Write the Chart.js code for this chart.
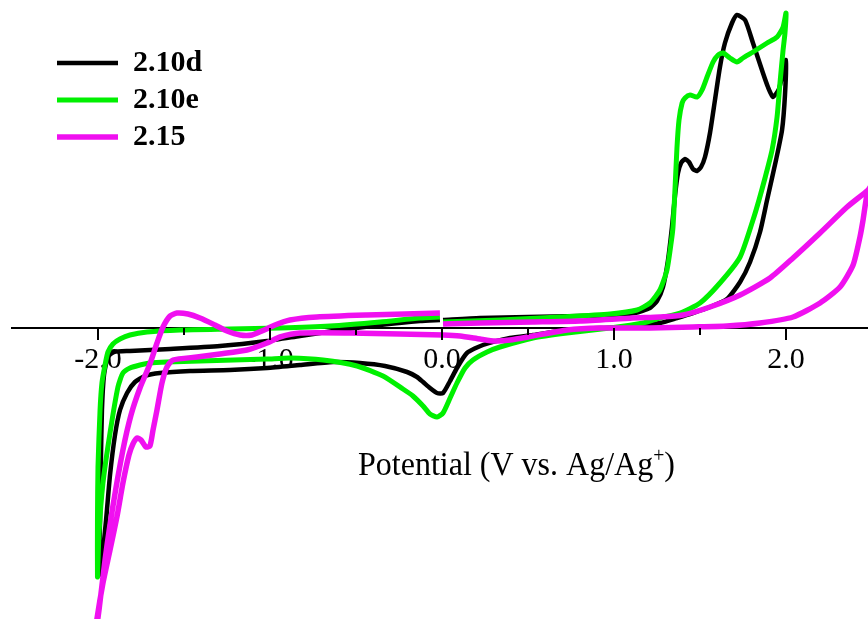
<!DOCTYPE html>
<html>
<head>
<meta charset="utf-8">
<script src="https://cdn.jsdelivr.net/npm/chart.js@4.4.0/dist/chart.umd.min.js"></script>
<style>
  html, body { margin: 0; padding: 0; background: #fff; }
  canvas { display: block; }
</style>
</head>
<body>
<canvas id="cv-chart" width="868" height="619"></canvas>
<script>
// cyclic voltammograms, potential in V vs Ag/Ag+, current in arbitrary units
var seriesNames = ['2.10d', '2.10e', '2.15'];
var seriesColors = ['#000000', '#00f000', '#f010f0'];

// 2.10d : 0 -> +2.0 -> -2.0 -> 0
var potential210d = [0.006, 0.221, 0.5, 0.802, 1.0, 1.122, 1.209, 1.250, 1.285, 1.314, 1.337, 1.355, 1.372, 1.390, 1.413, 1.436, 1.459, 1.483, 1.506, 1.529, 1.558, 1.587, 1.616, 1.645, 1.686, 1.715, 1.762, 1.808, 1.866, 1.895, 1.924, 1.959, 2.0,
  1.994, 1.977, 1.942, 1.890, 1.849, 1.791, 1.733, 1.657, 1.558, 1.459, 1.366, 1.267, 1.076, 0.919, 0.727, 0.529, 0.395, 0.238, 0.145, 0.087, 0.047, 0.006, -0.029, -0.070, -0.110, -0.145, -0.203, -0.331, -0.477, -0.634, -0.826, -1.017, -1.233, -1.465, -1.640, -1.727, -1.785, -1.831, -1.872, -1.901, -1.930, -1.953, -1.977, -1.994,
  -1.988, -1.983, -1.977, -1.965, -1.942, -1.907, -1.814, -1.581, -1.291, -1.017, -0.826, -0.593, -0.360, -0.128, -0.012];
var current210d = [0.8, 1.0, 1.1, 1.2, 1.3, 1.5, 2.0, 2.7, 4.1, 6.8, 10.1, 13.3, 15.5, 16.5, 16.9, 16.6, 15.9, 15.7, 16.1, 17.1, 19.5, 22.8, 26.1, 28.5, 30.5, 31.3, 30.8, 28.5, 25.5, 24.1, 23.1, 23.9, 26.8,
  23.3, 19.8, 16.8, 12.8, 9.6, 6.6, 4.6, 2.9, 2.1, 1.5, 1.0, 0.5, 0.1, 0.0, -0.2, -0.7, -1.0, -1.7, -2.5, -4.0, -5.3, -6.5, -6.5, -6.0, -5.4, -4.9, -4.4, -3.8, -3.5, -3.4, -3.7, -4.0, -4.2, -4.3, -4.5, -4.8, -5.4, -6.5, -8.2, -10.7, -14.7, -19.2, -23.2, -24.7,
  -19.2, -13.2, -8.2, -4.7, -2.9, -2.4, -2.3, -2.1, -1.8, -1.3, -0.8, -0.2, 0.3, 0.7, 0.8];

// 2.10e
var potential210e = [0.006, 0.337, 0.686, 0.977, 1.134, 1.209, 1.267, 1.308, 1.332, 1.343, 1.355, 1.366, 1.378, 1.396, 1.413, 1.442, 1.483, 1.512, 1.541, 1.576, 1.605, 1.634, 1.674, 1.715, 1.750, 1.808, 1.890, 1.948, 1.983, 2.0,
  1.994, 1.983, 1.965, 1.948, 1.919, 1.878, 1.843, 1.808, 1.733, 1.616, 1.500, 1.384, 1.267, 1.169, 0.977, 0.727, 0.529, 0.337, 0.262, 0.180, 0.134, 0.087, 0.047, 0.006, -0.029, -0.070, -0.110, -0.169, -0.227, -0.343, -0.494, -0.692, -0.884, -1.017, -1.407, -1.599, -1.698, -1.756, -1.814, -1.855, -1.884, -1.930, -1.971, -1.994, -2.003,
  -2.003, -2.0, -1.988, -1.977, -1.959, -1.942, -1.913, -1.872, -1.814, -1.715, -1.523, -1.233, -0.942, -0.651, -0.360, -0.128, -0.012];
var current210e = [0.6, 0.8, 1.1, 1.4, 1.8, 2.5, 3.8, 5.8, 8.5, 10.1, 14.0, 18.0, 20.8, 22.5, 23.0, 23.3, 23.1, 23.8, 25.1, 26.6, 27.3, 27.5, 27.0, 26.6, 27.0, 27.6, 28.5, 29.1, 30.1, 31.5,
  29.5, 27.8, 24.5, 21.1, 17.8, 15.0, 12.8, 10.8, 7.1, 4.5, 2.5, 1.5, 1.0, 0.5, 0.0, -0.5, -1.0, -1.9, -2.4, -3.2, -4.0, -5.5, -7.0, -8.5, -8.9, -8.6, -7.8, -6.8, -6.1, -4.8, -3.8, -3.2, -3.0, -3.1, -3.3, -3.4, -3.5, -3.7, -4.0, -4.5, -5.9, -10.5, -15.5, -20.5, -24.9,
  -19.2, -13.9, -8.2, -5.5, -3.7, -2.4, -1.6, -1.1, -0.7, -0.4, -0.2, -0.1, 0.0, 0.2, 0.6, 1.0, 1.1];

// 2.15 (both vertices run past the frame)
var potential215 = [0.006, 0.221, 0.529, 0.802, 1.110, 1.267, 1.401, 1.558, 1.733, 1.907, 2.041, 2.198, 2.355, 2.477, 2.5,
  2.471, 2.448, 2.430, 2.390, 2.314, 2.198, 2.041, 1.849, 1.657, 1.459, 1.209, 0.919, 0.727, 0.529, 0.395, 0.308, 0.221, 0.105, 0.006, -0.244, -0.535, -0.826, -0.942, -1.017, -1.134, -1.291, -1.424, -1.564, -1.599, -1.628, -1.657, -1.680, -1.698, -1.721, -1.750, -1.773, -1.797, -1.820, -1.855, -1.890, -1.930, -1.971, -2.006, -2.015,
  -1.994, -1.959, -1.913, -1.855, -1.808, -1.756, -1.698, -1.657, -1.622, -1.581, -1.541, -1.477, -1.407, -1.320, -1.250, -1.174, -1.105, -1.047, -0.971, -0.884, -0.727, -0.436, -0.215, -0.012];
var current215 = [0.4, 0.5, 0.6, 0.7, 1.0, 1.1, 1.3, 2.1, 3.3, 5.0, 7.0, 9.5, 12.1, 13.8, 14.4,
  13.3, 10.8, 9.1, 6.3, 4.1, 2.5, 1.1, 0.5, 0.2, 0.1, 0.0, 0.0, -0.2, -0.8, -1.2, -1.3, -1.1, -0.8, -0.7, -0.6, -0.5, -0.5, -0.9, -1.5, -2.2, -2.6, -2.9, -3.2, -3.9, -5.5, -8.2, -10.2, -11.8, -11.9, -11.2, -11.0, -11.6, -12.7, -15.5, -18.9, -22.2, -25.5, -29.1, -30.6,
  -28.2, -23.2, -17.8, -12.2, -8.7, -6.0, -3.6, -1.5, 0.1, 1.2, 1.5, 1.4, 1.0, 0.3, -0.3, -0.7, -0.7, -0.3, 0.3, 0.8, 1.1, 1.3, 1.4, 1.5];

var xRange = [-2.4999, 2.4767];
var yRange = [-29.1, 32.8];
var tickStep = 0.5;

function toPoints(xs, ys) {
  return xs.map(function(v, i) { return {x: v, y: ys[i]}; });
}

var serif = '"Liberation Serif", "Times New Roman", serif';

// ticks: long at whole volts, short at half volts
var axisTicks = {
  id: 'axisTicks',
  afterDraw: function(chart) {
    var xs = chart.scales.x;
    var base = chart.scales.y.getPixelForValue(0);
    var ctx = chart.ctx;
    ctx.save();
    ctx.strokeStyle = '#000';
    ctx.lineWidth = 2;
    xs.ticks.forEach(function(t) {
      var px = xs.getPixelForValue(t.value);
      var len = Math.abs(t.value % 1) < 1e-6 ? 12 : 7;
      ctx.beginPath();
      ctx.moveTo(px, base);
      ctx.lineTo(px, base + len);
      ctx.stroke();
    });
    ctx.restore();
  }
};

// axis title sits below the curves, right of centre, with a raised +
var axisTitle = {
  id: 'axisTitle',
  afterDraw: function(chart) {
    var ctx = chart.ctx;
    var main = 'Potential (V vs. Ag/Ag', sup = '+', close = ')';
    ctx.save();
    ctx.fillStyle = '#000';
    ctx.textBaseline = 'alphabetic';
    ctx.textAlign = 'left';
    ctx.font = '34px ' + serif;
    var wMain = ctx.measureText(main).width;
    var wClose = ctx.measureText(close).width;
    ctx.font = '21px ' + serif;
    var wSup = ctx.measureText(sup).width;
    var sx = 317 / (wMain + wSup + wClose);
    ctx.translate(358, 475);
    ctx.scale(sx, 1);
    ctx.font = '34px ' + serif;
    ctx.fillText(main, 0, 0);
    ctx.fillText(close, wMain + wSup, 0);
    ctx.font = '21px ' + serif;
    ctx.fillText(sup, wMain, -13);
    ctx.restore();
  }
};

// move the in-plot legend down and right
var legendShift = {
  id: 'legendShift',
  afterLayout: function(chart) {
    chart.legend.left += 38;
    chart.legend.top += 41;
  }
};

var ctx = document.getElementById('cv-chart').getContext('2d');
var chart = new Chart(ctx, {
  type: 'line',
  data: {
    datasets: [{
      label: seriesNames[0],
      data: toPoints(potential210d, current210d),
      borderColor: seriesColors[0],
      borderWidth: 4.5,
      order: 3
    }, {
      label: seriesNames[1],
      data: toPoints(potential210e, current210e),
      borderColor: seriesColors[1],
      borderWidth: 5,
      order: 2
    }, {
      label: seriesNames[2],
      data: toPoints(potential215, current215),
      borderColor: seriesColors[2],
      borderWidth: 5.5,
      order: 1
    }]
  },
  options: {
    responsive: false,
    animation: false,
    devicePixelRatio: 1,
    events: [],
    layout: { padding: { left: 12, top: 0, right: 0, bottom: 0 } },
    elements: {
      point: { radius: 0, borderWidth: 5.5 },
      line: { tension: 0.2, fill: false }
    },
    scales: {
      x: {
        type: 'linear',
        min: xRange[0],
        max: xRange[1],
        position: { y: 0 },
        border: { display: true, color: '#000', width: 2 },
        grid: { drawOnChartArea: false, drawTicks: false },
        ticks: {
          stepSize: tickStep,
          includeBounds: false,
          autoSkip: false,
          maxRotation: 0,
          padding: 14,
          color: '#000',
          font: { family: serif, size: 30 },
          callback: function(v) { return Math.abs(v % 1) < 1e-6 ? v.toFixed(1) : ''; }
        }
      },
      y: { display: false, min: yRange[0], max: yRange[1] }
    },
    plugins: {
      legend: {
        position: 'chartArea',
        align: 'start',
        labels: {
          usePointStyle: true,
          pointStyle: 'line',
          pointStyleWidth: 61,
          padding: 7,
          color: '#000',
          font: { family: serif, size: 30, weight: 'bold' },
          sort: function(a, b) { return a.datasetIndex - b.datasetIndex; }
        }
      },
      tooltip: { enabled: false }
    }
  },
  plugins: [axisTicks, axisTitle, legendShift]
});
</script>
</body>
</html>
